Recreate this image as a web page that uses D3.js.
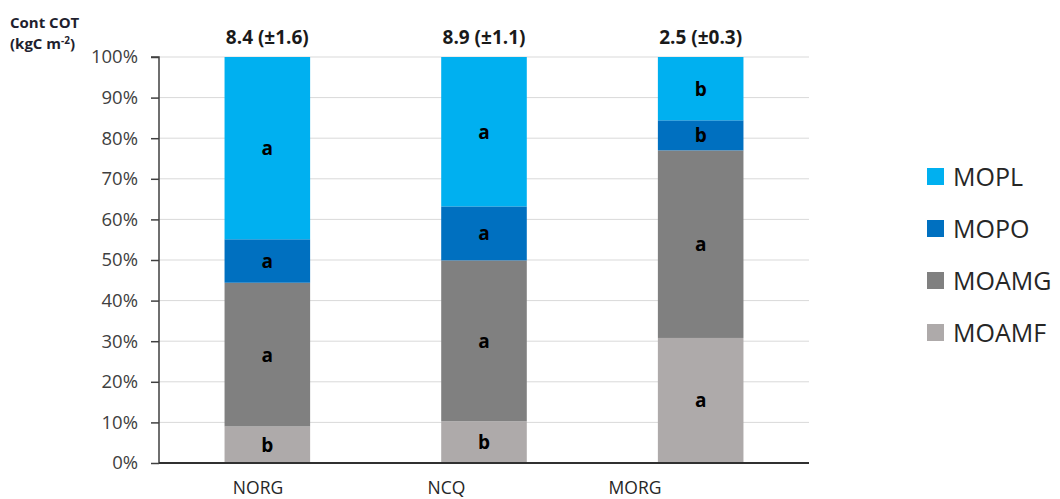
<!DOCTYPE html>
<html><head><meta charset="utf-8">
<script src="https://cdn.jsdelivr.net/npm/d3@7"></script>
<style>body{margin:0;background:#fff}svg{display:block}</style>
</head><body><svg id="c" width="1060" height="499"></svg>
<script>
const categories = ["NORG", "NCQ", "MORG"];
const seriesNames = ["MOAMF", "MOAMG", "MOPO", "MOPL"];
const MOAMF = [9.0, 10.3, 30.8];
const MOAMG = [35.4, 39.6, 46.2];
const MOPO = [10.7, 13.3, 7.4];
const MOPL = [44.9, 36.8, 15.6];
const letters_MOAMF = ["b", "b", "a"];
const letters_MOAMG = ["a", "a", "a"];
const letters_MOPO = ["a", "a", "b"];
const letters_MOPL = ["a", "a", "b"];
const totals = ["8.4 (±1.6)", "8.9 (±1.1)", "2.5 (±0.3)"];
const yTicks = [0, 10, 20, 30, 40, 50, 60, 70, 80, 90, 100];
const colors = {MOPL: "#00B0F0", MOPO: "#0070C0", MOAMG: "#808080", MOAMF: "#AEAAAA"};

(function () {
const values = {MOAMF, MOAMG, MOPO, MOPL};
const letters = {MOAMF: letters_MOAMF, MOAMG: letters_MOAMG, MOPO: letters_MOPO, MOPL: letters_MOPL};
const rows = categories.map((c, i) => {
  const r = {cat: c};
  seriesNames.forEach(s => r[s] = values[s][i]);
  return r;
});
const stacked = d3.stack().keys(seriesNames)(rows);

const svg = d3.select("#c");
const F = "'Open Sans', sans-serif";
const pL = 159, pR = 809, pT = 57, pB = 463;
const x = d3.scaleBand().domain(categories).range([pL, pR]).paddingInner(0.605).paddingOuter(0.3025);
const y = d3.scaleLinear().domain([0, 100]).range([pB, pT]);
const xLab = d3.scalePoint().domain(categories).range([258, 635]);

// gridlines
svg.append("g").selectAll("line").data(yTicks.filter(t => t > 0)).join("line")
  .attr("x1", pL).attr("x2", pR).attr("y1", d => y(d)).attr("y2", d => y(d))
  .attr("stroke", "#D9D9D9").attr("stroke-width", 1);

// bars
const g = svg.append("g");
stacked.forEach(layer => {
  const key = layer.key;
  g.append("g").selectAll("rect").data(layer).join("rect")
    .attr("x", d => x(d.data.cat)).attr("width", x.bandwidth())
    .attr("y", d => y(d[1])).attr("height", d => y(d[0]) - y(d[1]))
    .attr("fill", colors[key]);
  g.append("g").selectAll("text").data(layer).join("text")
    .attr("x", d => x(d.data.cat) + x.bandwidth() / 2)
    .attr("y", d => (y(d[0]) + y(d[1])) / 2 + 7)
    .attr("text-anchor", "middle").attr("font-family", F).attr("font-weight", "bold")
    .attr("font-size", 19).attr("fill", "#000")
    .text((d, i) => letters[key][i]);
});

// y axis
const ya = d3.axisLeft(y).tickValues(yTicks).tickFormat(d => d + "%").tickSize(8).tickPadding(13);
const yg = svg.append("g").attr("transform", `translate(${pL},0)`).call(ya);
yg.select(".domain").attr("stroke", "#404040").attr("stroke-width", 1.5).attr("d", `M-8,${pT}H0V${pB}`);
yg.selectAll(".tick line").attr("stroke", "#404040").attr("stroke-width", 1.5);
yg.selectAll(".tick text").attr("font-family", F).attr("font-size", 18.5).attr("fill", "#404040");

// x axis baseline
svg.append("line").attr("x1", pL).attr("x2", pR).attr("y1", pB).attr("y2", pB)
  .attr("stroke", "#303030").attr("stroke-width", 2);

// category labels
svg.append("g").selectAll("text").data(categories).join("text")
  .attr("x", d => xLab(d)).attr("y", 494).attr("text-anchor", "middle")
  .attr("font-family", F).attr("font-size", 17.5).attr("fill", "#262626").text(d => d);

// totals
svg.append("g").selectAll("text").data(categories).join("text")
  .attr("x", d => x(d) + x.bandwidth() / 2).attr("y", 44).attr("text-anchor", "middle")
  .attr("font-family", F).attr("font-weight", "bold").attr("font-size", 19).attr("fill", "#1a1a1a")
  .text((d, i) => totals[i]);

// y title
const yt = svg.append("text").attr("font-family", F).attr("font-weight", "bold").attr("font-size", 15).attr("fill", "#1F1F2F");
yt.append("tspan").attr("x", 10).attr("y", 28).text("Cont COT");
const t2 = yt.append("tspan").attr("x", 10).attr("y", 49).text("(kgC m");
t2.append("tspan").attr("dy", -5).attr("font-size", 10).text("-2");
yt.append("tspan").attr("dy", 5).text(")");

// legend
const legendOrder = ["MOPL", "MOPO", "MOAMG", "MOAMF"];
const lg = svg.append("g").selectAll("g").data(legendOrder).join("g")
  .attr("transform", (d, i) => `translate(927,${168 + i * 52})`);
lg.append("rect").attr("width", 17).attr("height", 17).attr("fill", d => colors[d]);
lg.append("text").attr("x", 26).attr("y", 18).attr("font-family", F).attr("font-size", 25)
  .attr("fill", "#262626").text(d => d);
})();
</script></body></html>
